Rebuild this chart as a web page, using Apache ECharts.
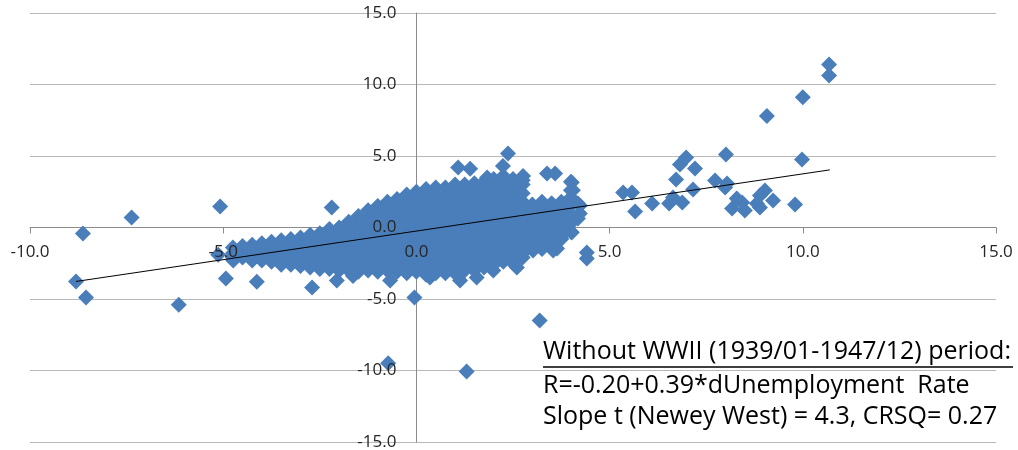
<!DOCTYPE html>
<html><head><meta charset="utf-8">
<script src="https://cdn.jsdelivr.net/npm/echarts@6/dist/echarts.min.js"></script>
<style>html,body{margin:0;padding:0;background:#fff}#c{width:1018px;height:450px}</style>
</head><body><div id="c"></div>
<script>
// Axis ranges / ticks
const xRange = [-10, 15];
const yRange = [-15, 15];
const tickStep = 5;

// Dense core of the cloud, read column by column: [x, [y values]]
const coreColumns = [
  [-4.75, [-1.4, -1.8, -2.1]],
  [-4.5,  [-1.3, -1.5, -2.1]],
  [-4.25, [-1.2, -1.8, -2.3]],
  [-4.0,  [-1.1, -1.5, -2.1, -2.3]],
  [-3.75, [-1.0, -1.2, -1.8, -2.4]],
  [-3.5,  [-0.9, -1.5, -2.1, -2.6]],
  [-3.25, [-0.8, -1.2, -1.8, -2.4, -2.6]],
  [-3.0,  [-0.7, -0.9, -1.5, -2.1, -2.7]],
  [-2.75, [-0.5, -0.6, -1.2, -1.8, -2.4, -2.8]],
  [-2.5,  [-0.4, -0.9, -1.5, -2.1, -2.7, -2.9]],
  [-2.25, [-0.1, -0.6, -1.2, -1.8, -2.4, -2.9]],
  [-2.0,  [0.0, -0.3, -0.9, -1.5, -2.1, -2.7, -3.0]],
  [-1.75, [0.4, 0.0, -0.6, -1.2, -1.8, -2.4, -3.0]],
  [-1.5,  [0.8, 0.3, -0.3, -0.9, -1.5, -2.1, -2.7, -3.1]],
  [-1.25, [1.2, 0.6, 0.0, -0.6, -1.2, -1.8, -2.4, -3.0]],
  [-1.0,  [1.5, 0.9, 0.3, -0.3, -0.9, -1.5, -2.1, -2.7, -3.1]],
  [-0.75, [1.8, 1.2, 0.6, 0.0, -0.6, -1.2, -1.8, -2.4, -3.0]],
  [-0.5,  [2.0, 1.5, 0.9, 0.3, -0.3, -0.9, -1.5, -2.1, -2.7, -3.1]],
  [-0.25, [2.3, 1.8, 1.2, 0.6, 0.0, -0.6, -1.2, -1.8, -2.4, -3.0, -3.2]],
  [0.0,   [2.5, 2.1, 1.5, 0.9, 0.3, -0.3, -0.9, -1.5, -2.1, -2.7, -3.1]],
  [0.25,  [2.7, 2.4, 1.8, 1.2, 0.6, 0.0, -0.6, -1.2, -1.8, -2.4, -3.0, -3.3]],
  [0.5,   [2.8, 2.1, 1.5, 0.9, 0.3, -0.3, -0.9, -1.5, -2.1, -2.7, -3.2]],
  [0.75,  [2.8, 2.4, 1.8, 1.2, 0.6, 0.0, -0.6, -1.2, -1.8, -2.4, -3.0, -3.2]],
  [1.0,   [3.0, 2.7, 2.1, 1.5, 0.9, 0.3, -0.3, -0.9, -1.5, -2.1, -2.7, -3.2]],
  [1.25,  [3.0, 2.4, 1.8, 1.2, 0.6, 0.0, -0.6, -1.2, -1.8, -2.4, -3.0]],
  [1.5,   [3.1, 2.7, 2.1, 1.5, 0.9, 0.3, -0.3, -0.9, -1.5, -2.1, -2.7, -3.0]],
  [1.75,  [3.2, 3.0, 2.4, 1.8, 1.2, 0.6, 0.0, -0.6, -1.2, -1.8, -2.4, -2.8]],
  [2.0,   [3.4, 2.7, 2.1, 1.5, 0.9, 0.3, -0.3, -0.9, -1.5, -2.1, -2.6]],
  [2.25,  [3.6, 3.0, 2.4, 1.8, 1.2, 0.6, 0.0, -0.6, -1.2, -1.8, -2.4]],
  [2.5,   [3.4, 2.7, 2.1, 1.5, 0.9, 0.3, -0.3, -0.9, -1.5, -2.1]],
  [2.75,  [3.3, 3.0, 2.4, 1.8, 1.2, 0.6, 0.0, -0.6, -1.2, -1.8, -2.1]],
  [3.0,   [1.6, 0.9, 0.3, -0.3, -0.9, -1.5]],
  [3.25,  [1.8, 1.2, 0.6, 0.0, -0.6, -1.2, -1.5]],
  [3.5,   [1.7, 1.5, 0.9, 0.3, -0.3, -0.9, -1.3]],
  [3.75,  [1.8, 1.2, 0.6, 0.0, -0.6, -0.8]],
  [4.0,   [3.2, 2.6, 2.1, 1.5, 0.9, 0.3, -0.3]]
];

// Scattered points around the core
const edgePoints = [
  [-4.93, -3.57], [-4.13, -3.8], [-5.13, -1.9], [-4.74, -2.3], [-2.7, -4.2],
  [-2.06, -3.7], [-1.64, -3.4], [-0.68, -3.7], [-2.19, 1.4], [-0.05, -4.9],
  [1.08, 4.2], [1.39, 4.1], [2.24, 4.3], [2.37, 5.17], [1.83, 3.5], [2.76, 3.6],
  [3.38, 3.78], [3.59, 3.78], [4.02, 3.15], [4.05, 2.6], [4.18, 1.68], [4.23, 1.54],
  [4.23, 0.98], [4.18, 0.63], [4.02, -0.35], [3.64, -1.47], [3.54, -1.6], [3.02, -1.6],
  [2.5, -2.5], [2.6, -2.8], [1.99, -3.0], [1.56, -3.5], [1.13, -3.7], [0.35, -3.5],
  [4.41, -1.75], [4.41, -2.17]
];

// Far-out points
const outlierPoints = [
  [-8.81, -3.78], [-8.55, -4.9], [-8.63, -0.42], [-7.37, 0.7], [-5.08, 1.47],
  [-6.15, -5.4], [3.19, -6.5], [-0.73, -9.5], [1.3, -10.07],
  [5.35, 2.45], [5.58, 2.45], [5.66, 1.12], [6.1, 1.68], [6.54, 1.68], [6.64, 2.1],
  [6.72, 3.36], [6.82, 4.4], [6.98, 4.9], [7.21, 4.13], [7.16, 2.66], [6.88, 1.75],
  [7.73, 3.29], [8.04, 3.07], [7.99, 2.8], [8.01, 5.1], [8.29, 2.03], [8.17, 1.33],
  [8.5, 1.19], [8.43, 1.75], [8.89, 1.4], [8.81, 1.68], [8.89, 2.24], [9.02, 2.59],
  [9.23, 1.89], [9.8, 1.61], [9.98, 4.76], [9.07, 7.8], [10.0, 9.1], [10.68, 10.63],
  [10.68, 11.4]
];

// Linear trend line
const trendIntercept = -0.25;
const trendSlope = 0.40;
const trendXRange = [-8.81, 10.7];

// Annotation text
const noteLines = [
  'Without WWII (1939/01-1947/12) period:',
  'R=-0.20+0.39*dUnemployment  Rate',
  'Slope t (Newey West) = 4.3, CRSQ= 0.27'
];

const scatterData = [];
coreColumns.forEach(([x, ys]) => ys.forEach(y => scatterData.push([x, y])));
edgePoints.forEach(p => scatterData.push(p));
outlierPoints.forEach(p => scatterData.push(p));

const trendData = trendXRange.map(x => [x, trendIntercept + trendSlope * x]);

// Layout: axes cross at (0,0) inside the grid
const W = 1018, H = 450;
const gridBox = { left: 30, right: 22, top: 13, bottom: 8 };
const gw = W - gridBox.left - gridBox.right;
const gh = H - gridBox.top - gridBox.bottom;
const xZeroOffset = gw * (0 - xRange[0]) / (xRange[1] - xRange[0]);
const yZeroOffset = gh * (yRange[1] - 0) / (yRange[1] - yRange[0]);

const chart = echarts.init(document.getElementById('c'));
const labelFont = '"Open Sans", sans-serif';
const noteFont = '25px "Open Sans", sans-serif';
const fmt = v => v.toFixed(1);
const axisColor = '#8c8c8c';
const labelColor = '#262626';

function xAxisDef(labelsOnly) {
  return {
    type: 'value', min: xRange[0], max: xRange[1], interval: tickStep,
    position: 'bottom', offset: -(gh - yZeroOffset), z: labelsOnly ? 10 : 0,
    axisLine: { show: !labelsOnly, onZero: false, lineStyle: { color: axisColor, width: 1 } },
    axisTick: { show: !labelsOnly, inside: false, length: 6, lineStyle: { color: axisColor } },
    splitLine: { show: false },
    axisLabel: { show: labelsOnly, margin: 16, fontSize: 17, fontFamily: labelFont, color: labelColor,
      formatter: fmt, hideOverlap: false }
  };
}
function yAxisDef(labelsOnly) {
  return {
    type: 'value', min: yRange[0], max: yRange[1], interval: tickStep,
    position: 'left', offset: -xZeroOffset, z: labelsOnly ? 10 : 0,
    axisLine: { show: !labelsOnly, onZero: false, lineStyle: { color: axisColor, width: 1 } },
    axisTick: { show: false },
    splitLine: { show: !labelsOnly, lineStyle: { color: '#b8b8b8', width: 1 } },
    axisLabel: { show: labelsOnly, margin: 20, fontSize: 17, fontFamily: labelFont, color: labelColor,
      formatter: fmt, hideOverlap: false }
  };
}

chart.setOption({
  animation: false,
  backgroundColor: '#fff',
  grid: Object.assign({ containLabel: false, outerBoundsMode: 'none' }, gridBox),
  xAxis: [xAxisDef(false), xAxisDef(true)],
  yAxis: [yAxisDef(false), yAxisDef(true)],
  series: [
    {
      type: 'scatter', data: scatterData, symbol: 'diamond', symbolSize: 16,
      xAxisIndex: 0, yAxisIndex: 0,
      itemStyle: { color: '#4a7ebb', opacity: 1 }, z: 2
    },
    {
      type: 'line', data: trendData, showSymbol: false, symbol: 'none',
      xAxisIndex: 0, yAxisIndex: 0,
      lineStyle: { color: '#000', width: 1 }, z: 3
    }
  ],
  graphic: [
    { type: 'text', left: 543, top: 339, style: { text: noteLines[0], font: noteFont, fill: '#000' } },
    { type: 'line', shape: { x1: 543, y1: 367, x2: 1013, y2: 367 }, style: { stroke: '#000', lineWidth: 1.5 } },
    { type: 'text', left: 543, top: 373, style: { text: noteLines[1], font: noteFont, fill: '#000' } },
    { type: 'text', left: 543, top: 404, style: { text: noteLines[2], font: noteFont, fill: '#000' } }
  ]
});
</script></body></html>
